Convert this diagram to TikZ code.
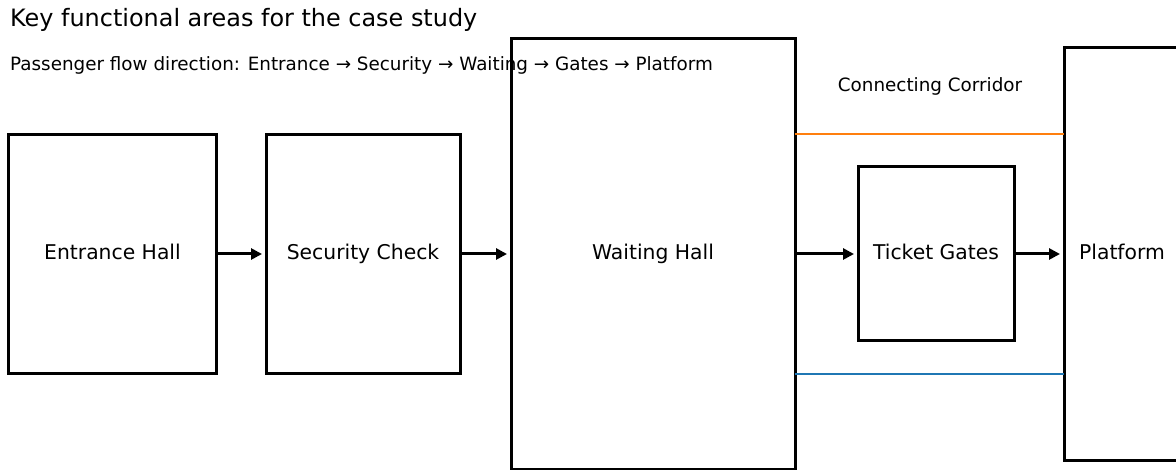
\documentclass[tikz,border=0pt]{standalone}
\usepackage{fontspec}
\setmainfont{DejaVu Sans}
\usetikzlibrary{arrows.meta}
\definecolor{corrorange}{HTML}{FF7F0E}
\definecolor{corrblue}{HTML}{1F77B4}
\tikzset{area/.style={draw, line width=3bp, inner sep=0pt, outer sep=0pt, text height=15bp, text depth=4bp, font=\fontsize{20.4}{24}\selectfont}}
\tikzset{flow/.style={-{Triangle[length=11bp,width=11bp]}, line width=3bp, shorten >=4bp}}
\tikzset{corr/.style={line width=2bp}}
\tikzset{l/.style={inner sep=0pt, font=\fontsize{24}{28}\selectfont}}
\tikzset{m/.style={inner sep=0pt, font=\fontsize{18.4}{22}\selectfont}}

\begin{document}
\begin{tikzpicture}[x=1bp,y=-1bp]
        \useasboundingbox (0,0) rectangle (1176,470);
        \node [l, anchor=base west] (title) at (10,27) {Key functional areas for the case study};
        \node [m, anchor=base west] (dir) at (10,71) {Passenger flow direction: Entrance → Security → Waiting → Gates → Platform};
        \node [m, anchor=base] (corridor) at (930,92) {Connecting Corridor};
        \node [area, minimum width=207bp, minimum height=239bp] (EH) at (112.5,254) {Entrance Hall};
        \node [area, minimum width=194bp, minimum height=239bp] (SC) at (363,254) {Security Check};
        \node [area, minimum width=284bp, minimum height=430bp] (WH) at (653,254) {Waiting Hall};
        \node [area, minimum width=156bp, minimum height=174bp] (TG) at (936,254) {Ticket Gates};
        \node [area, minimum width=116bp, minimum height=412bp] (PF) at (1122,254) {Platform};
        \draw [corr, corrorange] (WH.east |- EH.north) -- (PF.west |- EH.north);
        \draw [corr, corrblue] (WH.east |- EH.south) -- (PF.west |- EH.south);
        \draw [flow] (EH.east) -- (SC.west);
        \draw [flow] (SC.east) -- (WH.west);
        \draw [flow] (WH.east) -- (TG.west);
        \draw [flow] (TG.east) -- (PF.west);
      \end{tikzpicture}
\end{document}
